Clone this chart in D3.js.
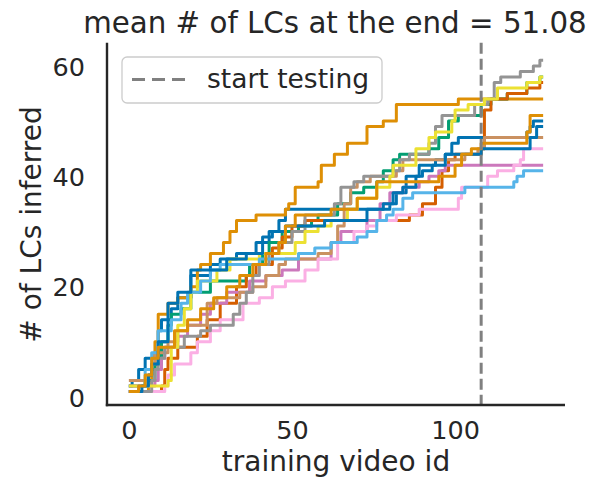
<!DOCTYPE html>
<html><head><meta charset="utf-8">
<script src="https://cdnjs.cloudflare.com/ajax/libs/d3/7.8.5/d3.min.js"></script>
<style>
body{margin:0;background:#fff}
svg{display:block}
text{font-family:"DejaVu Sans",sans-serif;fill:#262626}
</style>
</head><body>
<svg id="c" width="592" height="492"></svg>
<script>
// ---- data: [training video id, # of LCs inferred] at each change point ----
const blueA = [[0,2],[1,3],[3,5],[5,7],[8,8],[9,12],[10,14],[13,16],[15,18],[19,22],[25,24],[28,25],[33,26],[39,28],[43,30],[46,32],[48,34],[80,35],[82,37],[85,40],[89,42],[94,43],[97,44],[99,46],[101,47],[122,48],[123,49],[124,50],[127,50]];
const orangeA = [[0,1],[6,2],[7,5],[8,10],[9,15],[12,17],[15,18],[19,20],[21,23],[22,24],[25,26],[29,28],[31,30],[33,32],[39,33],[48,34],[49,35],[51,38],[58,39],[59,42],[63,44],[67,46],[73,49],[78,50],[82,53],[101,54],[127,54]];
const green = [[0,2],[5,3],[8,6],[10,10],[12,13],[13,15],[16,16],[19,19],[25,21],[36,22],[37,24],[41,26],[43,28],[47,30],[52,31],[56,32],[58,33],[64,35],[68,37],[72,38],[76,39],[78,41],[81,43],[83,44],[92,45],[95,47],[98,50],[101,51],[108,53],[111,54],[116,55],[122,57],[126,58],[127,58]];
const red = [[0,1],[10,2],[11,5],[12,7],[15,9],[21,11],[24,14],[28,17],[33,20],[36,22],[39,24],[44,27],[47,29],[50,31],[54,32],[86,33],[90,35],[94,38],[96,41],[98,43],[100,44],[108,45],[109,52],[111,54],[116,55],[122,56],[126,57],[127,57]];
const purple = [[0,2],[8,3],[9,5],[10,7],[11,9],[15,11],[18,13],[22,15],[25,17],[30,19],[37,21],[42,22],[47,23],[52,25],[62,28],[65,30],[73,32],[77,35],[80,37],[84,38],[89,39],[92,40],[95,41],[97,42],[127,42]];
const brown = [[0,3],[6,4],[7,6],[8,8],[12,10],[15,12],[18,13],[24,17],[27,18],[34,19],[38,20],[42,22],[46,24],[48,25],[58,26],[62,28],[64,31],[66,35],[68,38],[70,39],[74,40],[82,41],[84,43],[103,44],[107,45],[109,47],[127,47]];
const pink = [[0,1],[11,2],[12,4],[14,6],[19,8],[21,10],[25,12],[28,14],[35,17],[40,18],[44,20],[48,21],[54,23],[58,25],[64,28],[69,30],[73,31],[76,32],[82,33],[89,34],[101,36],[102,38],[110,40],[113,41],[118,42],[120,43],[121,45],[127,45]];
const gray = [[0,1],[7,3],[8,5],[9,7],[11,9],[17,11],[22,12],[25,13],[32,15],[34,17],[36,19],[38,22],[40,24],[43,26],[46,28],[50,30],[54,33],[63,35],[65,38],[69,39],[72,40],[81,41],[83,43],[86,44],[92,46],[94,49],[96,51],[106,53],[110,54],[112,57],[114,58],[120,59],[124,60],[126,61],[127,61]];
const yellow = [[0,2],[12,3],[13,9],[15,13],[17,16],[19,19],[21,21],[27,23],[31,25],[40,26],[51,28],[54,30],[58,31],[62,32],[67,34],[70,36],[76,38],[80,40],[81,42],[88,45],[92,47],[94,48],[99,50],[100,52],[104,53],[109,54],[113,56],[122,57],[126,58],[127,58]];
const lightBlue = [[0,1],[3,2],[5,5],[7,8],[9,12],[13,14],[16,17],[18,19],[22,21],[25,23],[28,24],[40,25],[52,26],[57,27],[62,28],[70,29],[73,30],[76,32],[79,33],[81,34],[84,36],[87,37],[103,38],[118,39],[119,40],[121,41],[127,41]];
const blueB = [[0,1],[4,2],[6,4],[7,6],[9,10],[12,17],[15,19],[19,23],[30,25],[36,26],[41,29],[44,30],[48,31],[60,32],[73,34],[78,35],[81,37],[84,38],[88,40],[90,41],[93,42],[97,44],[108,45],[123,47],[125,49],[127,49]];
const orangeB = [[0,1],[3,2],[5,4],[7,7],[9,9],[14,12],[18,14],[22,16],[26,18],[30,20],[34,22],[38,24],[42,26],[46,28],[48,31],[51,33],[62,34],[70,36],[76,39],[95,40],[100,42],[102,44],[105,45],[108,46],[122,48],[123,51],[127,51]];

const seriesList = [blueA, orangeA, green, red, purple, brown, pink, gray, yellow, lightBlue, blueB, orangeB];
const seriesColors = ["#0173b2","#de8f05","#029e73","#d55e00","#cc78bc","#ca9161","#fbafe4","#949494","#ece133","#56b4e9","#0173b2","#de8f05"];
const xTicks = [0, 50, 100];
const yTicks = [0, 20, 40, 60];
const testStart = 108;
const legendLabel = "start testing";
const titleText = "mean # of LCs at the end = 51.08";
const xLabel = "training video id";
const yLabel = "# of LCs inferred";

// ---- layout ----
const svg = d3.select("#c");
const L = 107, R = 565, T = 42.7, B = 405;
const x = d3.scaleLinear().domain([-6.7, 133.7]).range([L, R]);
const y = d3.scaleLinear().domain([-1.45, 64.2]).range([B, T]);

const plot = svg.append("g");
const line = d3.line().x(d => x(d[0])).y(d => y(d[1])).curve(d3.curveStepAfter);

seriesList.forEach((s, i) => {
  plot.append("path").datum(s)
    .attr("d", line)
    .attr("fill", "none")
    .attr("stroke", seriesColors[i])
    .attr("stroke-width", 3)
    .attr("stroke-linejoin", "round");
});

// start testing line
plot.append("line")
  .attr("x1", x(testStart)).attr("x2", x(testStart))
  .attr("y1", T).attr("y2", B)
  .attr("stroke", "#808080").attr("stroke-width", 3)
  .attr("stroke-dasharray", "11,5");

// spines
svg.append("line").attr("x1", L).attr("x2", L).attr("y1", T).attr("y2", B + 1.2)
  .attr("stroke", "#262626").attr("stroke-width", 2.4);
svg.append("line").attr("x1", L - 1.2).attr("x2", R).attr("y1", B).attr("y2", B)
  .attr("stroke", "#262626").attr("stroke-width", 2.4);

// axes
const gx = svg.append("g").attr("transform", `translate(0,${B})`)
  .call(d3.axisBottom(x).tickValues(xTicks).tickSize(0).tickFormat(d3.format("d")));
gx.select(".domain").remove();
gx.selectAll("text").attr("y", 34).attr("dy", null)
  .style("font-size", "25.5px").style("font-family", "DejaVu Sans").attr("fill", "#262626");

const gy = svg.append("g").attr("transform", `translate(${L},0)`)
  .call(d3.axisLeft(y).tickValues(yTicks).tickSize(0).tickFormat(d3.format("d")));
gy.select(".domain").remove();
gy.selectAll("text").attr("x", -22).attr("dy", "0.36em")
  .style("font-size", "25.5px").style("font-family", "DejaVu Sans").attr("fill", "#262626");

// labels
svg.append("text").attr("x", (L + R) / 2).attr("y", 471).attr("text-anchor", "middle")
  .style("font-size", "28px").text(xLabel);
svg.append("text").attr("transform", `translate(40.5,${224.5}) rotate(-90)`).attr("text-anchor", "middle")
  .style("font-size", "28px").text(yLabel);
svg.append("text").attr("x", 335).attr("y", 33).attr("text-anchor", "middle")
  .style("font-size", "29.3px").text(titleText);

// legend
const lg = svg.append("g");
lg.append("rect").attr("x", 122).attr("y", 57).attr("width", 260).attr("height", 46).attr("rx", 5)
  .attr("fill", "#ffffff").attr("fill-opacity", 0.8).attr("stroke", "#cccccc").attr("stroke-width", 1.3);
lg.append("line").attr("x1", 132).attr("x2", 186).attr("y1", 79.5).attr("y2", 79.5)
  .attr("stroke", "#808080").attr("stroke-width", 3).attr("stroke-dasharray", "13,7");
lg.append("text").attr("x", 207).attr("y", 87.5).style("font-size", "26.5px").text(legendLabel);
</script>
</body></html>
